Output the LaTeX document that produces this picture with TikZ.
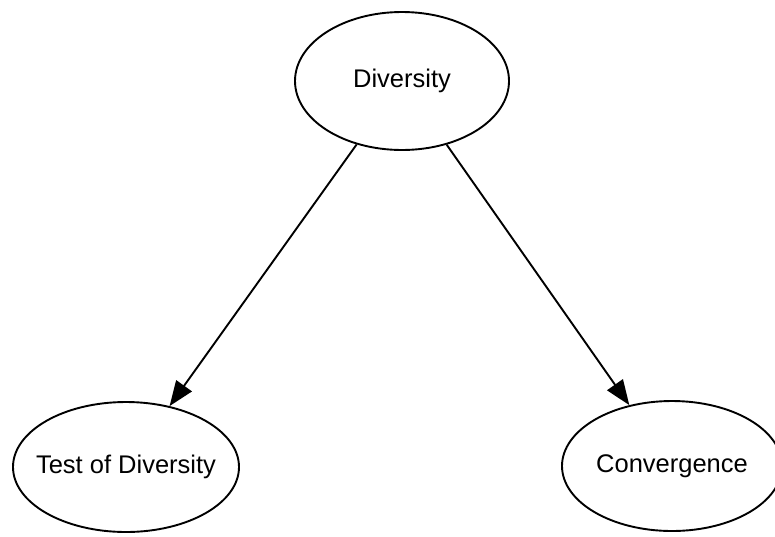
\documentclass[tikz,border=0pt]{standalone}
\usepackage{fontspec}
\setmainfont{Liberation Sans}
\usetikzlibrary{shapes.geometric,arrows.meta}
\newcommand{\ctext}[1]{\makebox[0pt]{#1}}
\begin{document}
\begin{tikzpicture}[x=1pt, y=-1pt, line width=1.9pt, main/.style = {draw, ellipse, inner sep=0pt, font=\fontsize{25.5}{30}\selectfont}, link/.style = {-{Triangle[length=25pt,width=19pt]}}]
	\useasboundingbox (0,0) rectangle (775,536);
	\node[main, minimum width=214pt, minimum height=138pt] (div) at (402,81) {\ctext{Diversity}};
	\node[main, minimum width=226pt, minimum height=130pt] (test) at (126,467) {\ctext{Test of Diversity}};
	\node[main, minimum width=220pt, minimum height=130pt] (conv) at (672,466) {\ctext{Convergence}};
	\draw[link] (div) -- (test);
	\draw[link] (div) -- (conv);
\end{tikzpicture}
\end{document}
